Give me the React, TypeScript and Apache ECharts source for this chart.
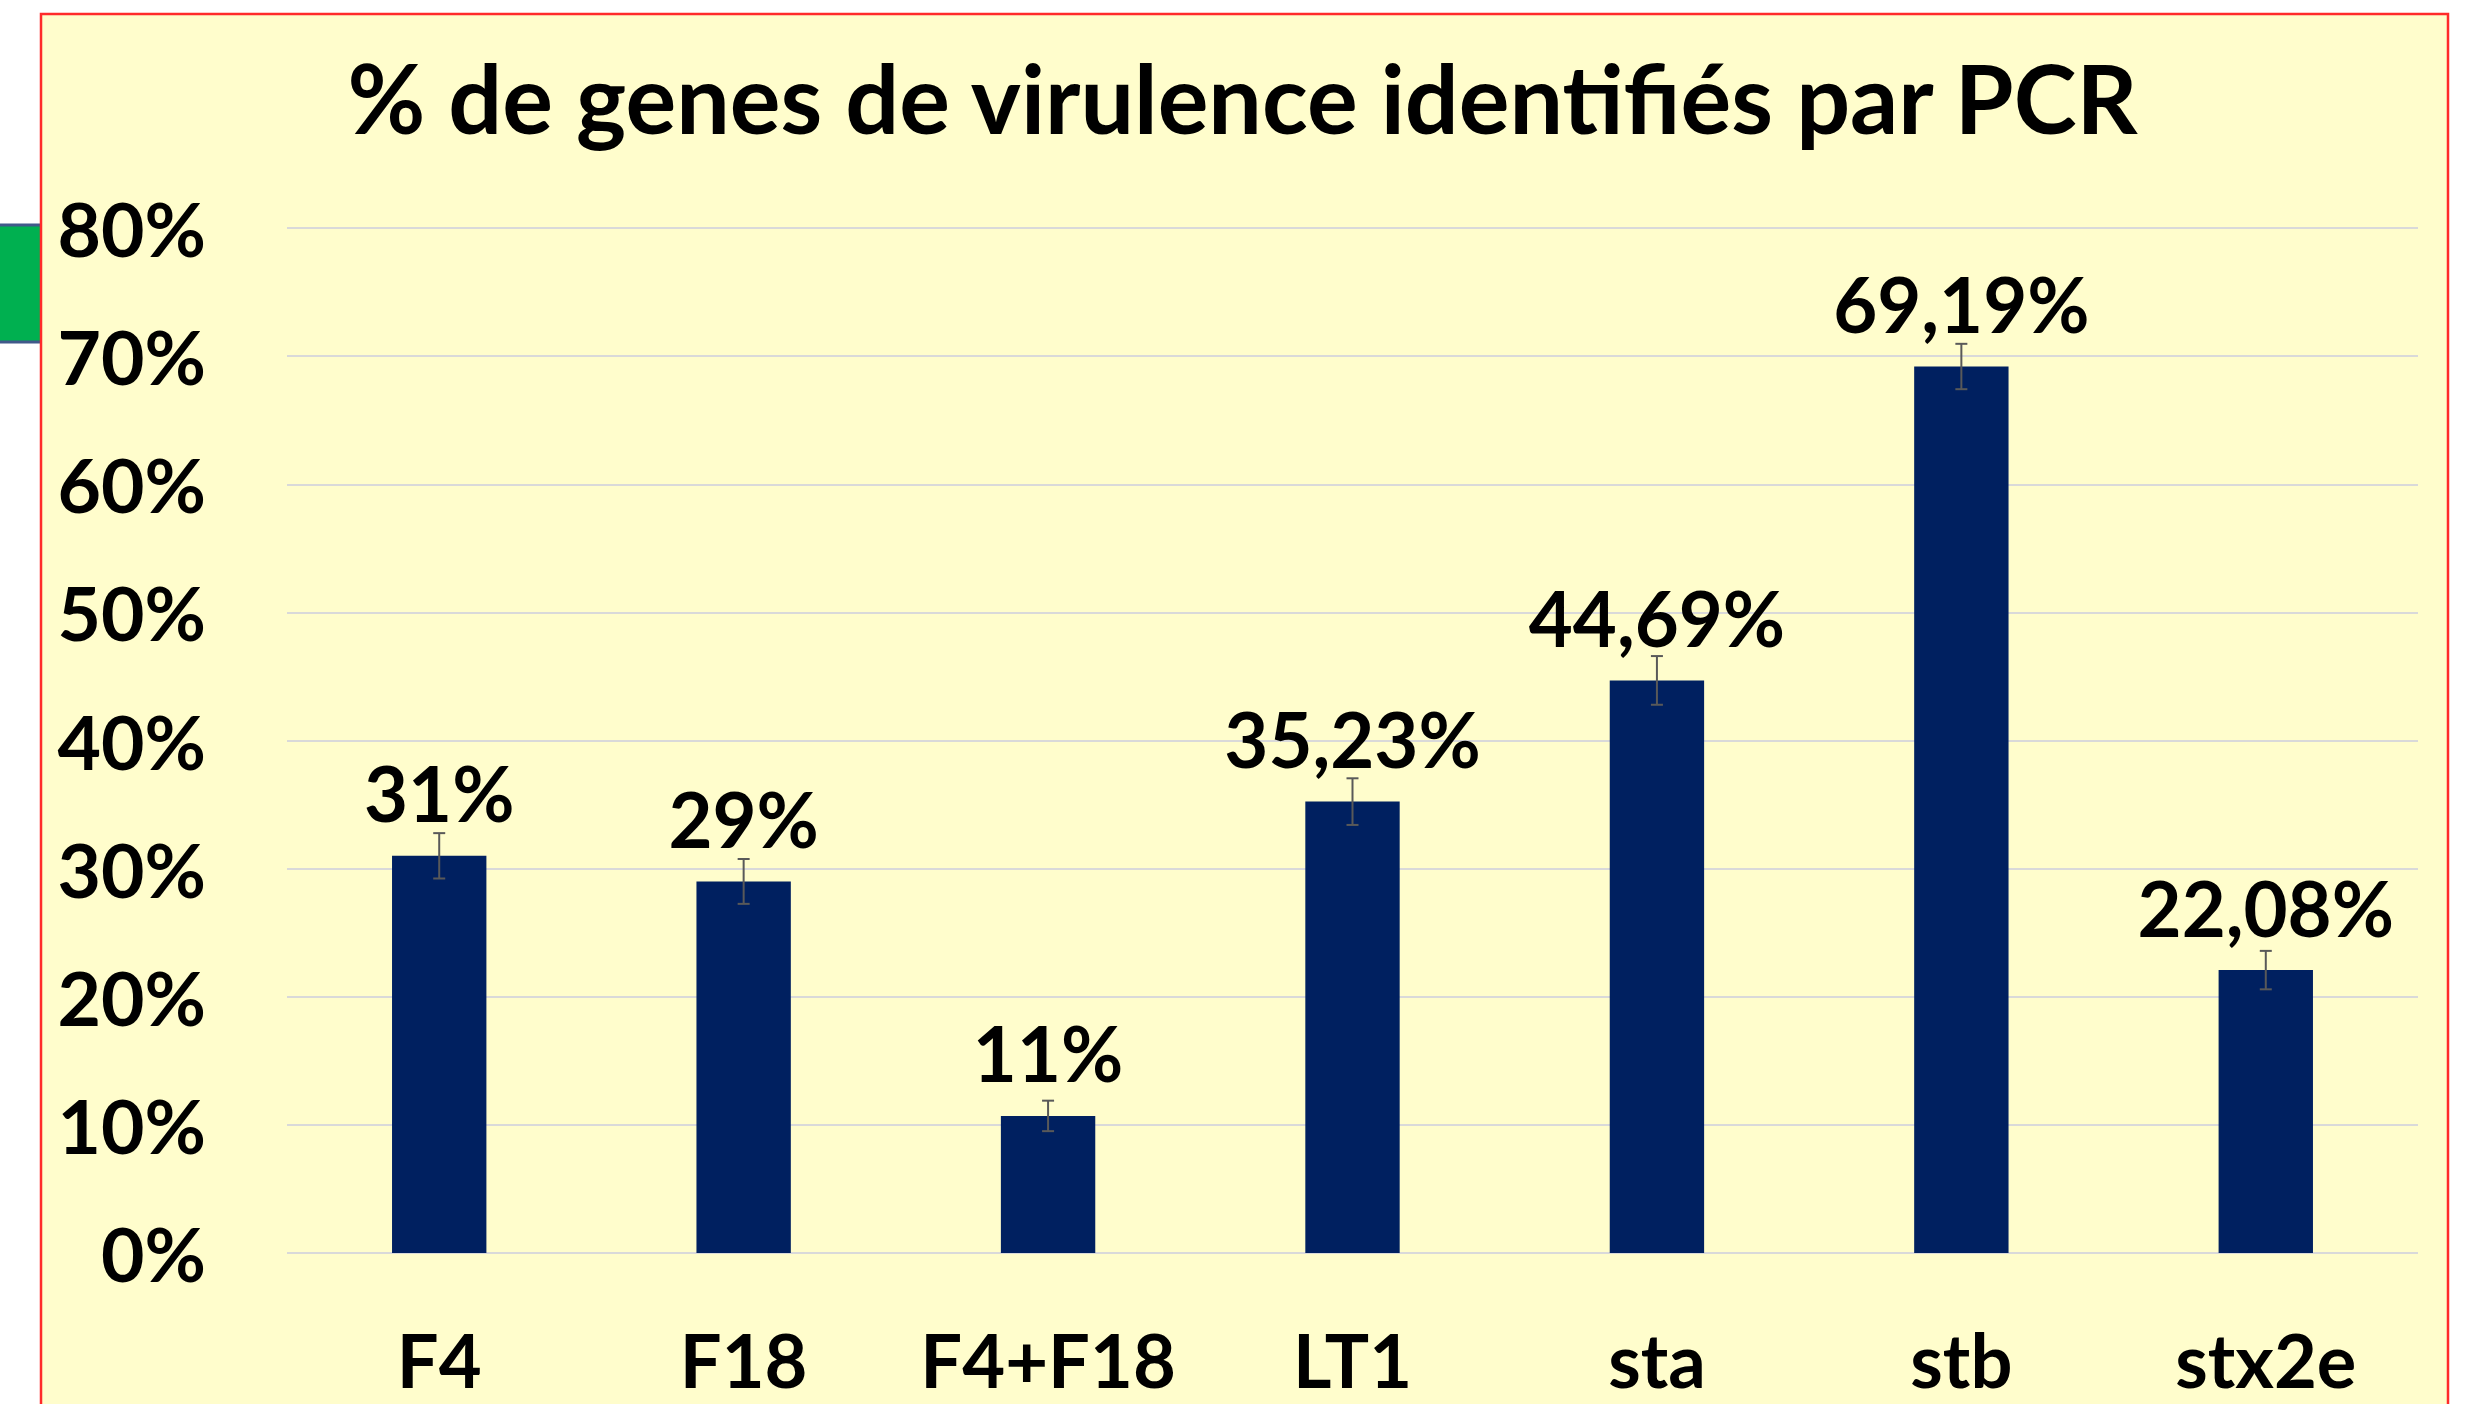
import React, { useEffect, useRef } from "react";
import * as echarts from "echarts";

const categories = ["F4", "F18", "F4+F18", "LT1", "sta", "stb", "stx2e"];
const values = [31.0, 29.0, 10.7, 35.23, 44.69, 69.19, 22.08];
const valueLabels = ["31%", "29%", "11%", "35,23%", "44,69%", "69,19%", "22,08%"];
const errors = [1.77, 1.75, 1.19, 1.82, 1.9, 1.77, 1.5];
const yTicks = [0, 10, 20, 30, 40, 50, 60, 70, 80];
const titleText = "% de genes de virulence identifiés par PCR";

const FONT = 'Lato, "Noto Sans", "DejaVu Sans", sans-serif';

export default function App() {
  const ref = useRef<HTMLDivElement>(null);
  useEffect(() => {
    if (!ref.current) return;
    const chart = echarts.init(ref.current, undefined, { renderer: "svg" });
    const option: any = {
      animation: false,
      backgroundColor: "#ffffff",
      title: {
        text: titleText,
        left: "center",
        top: 44,
        textStyle: { fontFamily: FONT, fontWeight: "bold", fontSize: 95, color: "#000000" },
      },
      graphic: [
        {
          type: "rect",
          z: -20,
          shape: { x: -6, y: 225, width: 48, height: 117 },
          style: { fill: "#00B050", stroke: "#41598A", lineWidth: 3 },
        },
        {
          type: "rect",
          z: -10,
          shape: { x: 41, y: 14, width: 2407, height: 1500 },
          style: { fill: "#FFFDCC", stroke: "#FF2A2A", lineWidth: 2.5 },
        },
      ],
      grid: { left: 287, right: 67, top: 228, bottom: 151, containLabel: false },
      xAxis: {
        type: "category",
        data: categories,
        axisLine: { show: false },
        axisTick: { show: false },
        axisLabel: {
          interval: 0,
          margin: 69,
          fontFamily: FONT,
          fontWeight: "bold",
          fontSize: 74,
          color: "#000000",
        },
      },
      yAxis: {
        type: "value",
        min: yTicks[0],
        max: yTicks[yTicks.length - 1],
        interval: 10,
        axisLine: { show: false },
        axisTick: { show: false },
        splitLine: { show: true, lineStyle: { color: "#D9D9D9", width: 2 } },
        axisLabel: {
          formatter: "{value}%",
          margin: 81,
          fontFamily: FONT,
          fontWeight: "bold",
          fontSize: 75,
          color: "#000000",
        },
      },
      series: [
        {
          type: "bar",
          data: values,
          barWidth: "31%",
          itemStyle: { color: "#002060" },
          label: {
            show: true,
            position: "top",
            distance: 25,
            formatter: (p: any) => valueLabels[p.dataIndex],
            fontFamily: FONT,
            fontWeight: "bold",
            fontSize: 76,
            color: "#000000",
          },
          z: 2,
        },
        {
          type: "custom",
          z: 3,
          data: categories.map((_, i) => [i, values[i], errors[i]]),
          encode: { x: 0, y: 1 },
          renderItem: (params: any, api: any) => {
            const i = api.value(0);
            const v = api.value(1);
            const e = api.value(2);
            const top = api.coord([i, v + e]);
            const bot = api.coord([i, v - e]);
            const cap = 6;
            const style = { stroke: "#595959", lineWidth: 2 };
            return {
              type: "group",
              children: [
                { type: "line", shape: { x1: top[0], y1: top[1], x2: bot[0], y2: bot[1] }, style },
                { type: "line", shape: { x1: top[0] - cap, y1: top[1], x2: top[0] + cap, y2: top[1] }, style },
                { type: "line", shape: { x1: bot[0] - cap, y1: bot[1], x2: bot[0] + cap, y2: bot[1] }, style },
              ],
            };
          },
        },
      ],
    };
    chart.setOption(option);
    return () => chart.dispose();
  }, []);
  return (
    <div
      ref={ref}
      style={{ position: "fixed", left: 0, top: 0, width: 2485, height: 1404 }}
    />
  );
}
